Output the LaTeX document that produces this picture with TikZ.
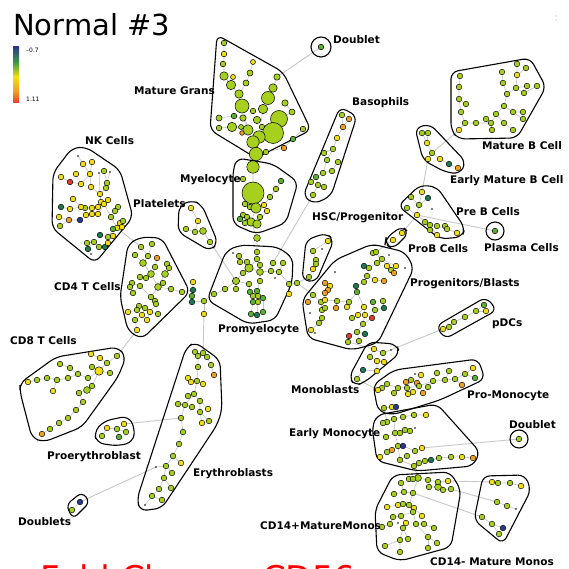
\documentclass[tikz,border=0pt]{standalone}
\usepackage{fontspec}
\setmainfont{DejaVu Sans}
\definecolor{cL}{HTML}{A6CF1E}
\definecolor{cY}{HTML}{F2DE12}
\definecolor{cO}{HTML}{F0A020}
\definecolor{cG}{HTML}{5AB030}
\definecolor{cT}{HTML}{1E7850}
\definecolor{cN}{HTML}{283A8C}
\definecolor{cR}{HTML}{E03C28}
\definecolor{edgegray}{HTML}{C4C4C4}
\definecolor{linkgray}{HTML}{C8C8C8}
\definecolor{barblue}{HTML}{2B3A8C}
\definecolor{bargreen}{HTML}{3A9A40}
\definecolor{baryellow}{HTML}{F2E010}
\definecolor{barorange}{HTML}{F5A020}
\definecolor{barred}{HTML}{EE3A2A}
\tikzset{
  grp/.style={draw=black, line width=1.1pt, rounded corners=7pt},
  lnk/.style={draw=linkgray, line width=0.9pt},
  edg/.style={draw=edgegray, line width=0.6pt},
  lbl/.style={font=\bfseries\fontsize{10.5}{12}\selectfont, anchor=west, inner sep=0pt},
}
\newcommand\dotlist[1]{\foreach \x/\y/\c in {#1}{\filldraw[fill=c\c,draw=black,line width=0.45pt] (\x,\y) circle (2.8);}}
\newcommand\bigdots[1]{\foreach \x/\y/\r/\c in {#1}{\filldraw[fill=c\c,draw=black,line width=0.5pt] (\x,\y) circle (\r);}}
\newcommand\tinydots[1]{\foreach \x/\y in {#1}{\fill (\x,\y) circle (0.9);}}
\begin{document}
\begin{tikzpicture}[x=1pt,y=-1pt]
\useasboundingbox (0,0) rectangle (568,569);
\fill[white] (0,0) rectangle (568,569);

% title and colour bar
\node[anchor=base west, inner sep=0pt, font=\fontsize{29}{33}\selectfont] (title) at (13,36) {Normal \#3};
\shade[top color=barblue, bottom color=bargreen] (13,47) rectangle (19,62);
\shade[top color=bargreen, bottom color=baryellow] (13,62) rectangle (19,77);
\shade[top color=baryellow, bottom color=barorange] (13,77) rectangle (19,91);
\shade[top color=barorange, bottom color=barred] (13,91) rectangle (19,103);
\node[anchor=west, inner sep=0pt, font=\fontsize{6}{7}\selectfont] (bmax) at (26,50) {–0.7};
\node[anchor=west, inner sep=0pt, font=\fontsize{6}{7}\selectfont] (bmin) at (26,99) {1.11};
\fill[gray] (556,16) circle (0.5); \fill[gray] (556,20) circle (0.5);

% links between groups
\draw[lnk] (321,47) -- (277,77);
\draw[lnk] (273,263) -- (313,195);
\draw[lnk] (210,242) -- (236,281);
\draw[lnk] (117,228) -- (141,247);
\draw[lnk] (137,330) -- (117,356);
\draw[lnk] (204,314) -- (203,353);
\draw[lnk] (181,418) -- (124,424);
\draw[lnk] (156,467) -- (80,502);
\draw[lnk] (289,284) -- (297,283) -- (309,277);
\draw[lnk] (297,283) -- (313,295);
\draw[lnk] (402,233) -- (417,215);
\draw[lnk] (417,215) -- (495,231);
\draw[lnk] (422,192) -- (428,159);
\draw[lnk] (432,153) -- (459,130);
\draw[lnk] (393,240) -- (376,252);
\draw[lnk] (383,353) -- (443,329);
\draw[lnk] (357,379) -- (378,390);
\draw[lnk] (384,408) -- (387,422);
\draw[lnk] (422,448) -- (519,439);
\draw[lnk] (414,466) -- (418,478);
\draw[lnk] (448,481) -- (492,482);
\draw[lnk] (451,489) -- (497,502);
\draw[lnk] (413,493) -- (482,517);

% internal tree edges
\draw[edg] (224,43)--(224,76)--(231,85)--(239,94)--(242,106)--(248,130)--(256,154);
\draw[edg] (253,62)--(250,73)--(246,83)--(239,94);
\draw[edg] (233,77)--(231,85);
\draw[edg] (277,77)--(273,88)--(268,98)--(263,109)--(259,137);
\draw[edg] (285,103)--(292,112)--(279,119)--(273,133)--(253,142)--(256,154)--(253,167)--(253,193);
\draw[edg] (303,129)--(293,139)--(284,148)--(266,152)--(256,154);
\draw[edg] (219,118)--(234,116)--(243,118)--(248,130);
\draw[edg] (219,128)--(232,127)--(248,130);
\draw[edg] (262,127)--(259,137);
\draw[edg] (253,193)--(256,208)--(251,222)--(257,238)--(257,252);
\draw[edg] (281,181)--(276,189)--(270,197)--(264,205)--(256,208);
\draw[edg] (243,179)--(253,193);
\draw[edg] (243,215)--(251,222);
\draw[edg] (267,211)--(257,224);
\draw[edg] (342,115)--(343,127)--(337,138)--(333,149)--(327,160)--(323,173)--(316,177)--(311,182);
\draw[edg] (349,119)--(343,127);
\draw[edg] (324,153)--(333,149);
\draw[edg] (338,162)--(332,171)--(323,173);
\draw[edg] (316,177)--(318,185)--(313,195);
\draw[edg] (318,185)--(324,187);
\draw[edg] (460,76)--(459,87)--(459,99)--(461,112)--(465,123)--(459,130);
\draw[edg] (466,104)--(459,99);
\draw[edg] (517,64)--(517,75)--(516,88)--(507,94)--(504,106)--(496,114)--(491,123)--(476,123)--(465,123);
\draw[edg] (526,68)--(517,75);
\draw[edg] (502,72)--(503,83)--(507,94);
\draw[edg] (527,86)--(516,88);
\draw[edg] (537,86)--(524,93)--(516,88);
\draw[edg] (513,112)--(504,106);
\draw[edg] (523,112)--(513,112)--(523,119);
\draw[edg] (504,123)--(496,114);
\draw[edg] (486,119)--(491,123)--(492,130);
\draw[edg] (513,130)--(504,123);
\draw[edg] (422,133)--(427,143)--(432,153)--(428,159);
\draw[edg] (428,133)--(427,143);
\draw[edg] (432,153)--(440,159)--(449,164)--(458,168);
\draw[edg] (422,192)--(419,205)--(417,215)--(425,222)--(437,226)--(447,229)--(457,233);
\draw[edg] (411,197)--(419,205)--(428,198);
\draw[edg] (407,208)--(417,215);
\draw[edg] (430,225)--(437,235);
\draw[edg] (430,230)--(425,222);
\draw[edg] (328,241)--(313,251)--(316,260)--(316,264)--(313,269)--(309,277);
\draw[edg] (373,253)--(382,259)--(387,266)--(391,270)--(394,273);
\draw[edg] (376,252)--(382,259)--(396,266);
\draw[edg] (377,263)--(369,268)--(367,276)--(364,282)--(356,286)--(357,292)--(349,302)--(337,301)--(325,300)--(321,302)--(313,295);
\draw[edg] (364,266)--(369,268);
\draw[edg] (330,286)--(325,293)--(325,300);
\draw[edg] (325,283)--(330,286);
\draw[edg] (328,290)--(325,293);
\draw[edg] (367,276)--(375,280)--(384,281);
\draw[edg] (357,292)--(364,307)--(365,315)--(363,324)--(357,332)--(349,336)--(348,342);
\draw[edg] (373,302)--(375,310)--(372,318)--(363,324);
\draw[edg] (383,301)--(384,308)--(375,310);
\draw[edg] (322,310)--(321,302);
\draw[edg] (336,308)--(337,301);
\draw[edg] (347,307)--(349,302);
\draw[edg] (357,332)--(365,334);
\draw[edg] (359,341)--(357,332);
\draw[edg] (352,318)--(358,315)--(364,307);
\draw[edg] (322,318)--(319,323)--(311,330);
\draw[edg] (308,302)--(313,295);
\draw[edg] (348,342)--(374,349)--(383,353);
\draw[edg] (374,349)--(370,357)--(377,361)--(377,371)--(363,370)--(357,379);
\draw[edg] (384,362)--(377,361);
\draw[edg] (443,329)--(449,327)--(454,322)--(465,317)--(476,311)--(484,305);
\draw[edg] (476,311)--(486,311);
\draw[edg] (378,390)--(382,388)--(387,384)--(398,388)--(407,388)--(419,386)--(433,381)--(445,380)--(455,379)--(465,374)--(473,368);
\draw[edg] (394,393)--(398,388);
\draw[edg] (411,380)--(407,388);
\draw[edg] (413,392)--(408,394)--(407,388);
\draw[edg] (423,393)--(419,386);
\draw[edg] (421,375)--(417,383)--(419,386);
\draw[edg] (428,387)--(433,381)--(437,373);
\draw[edg] (449,371)--(445,380);
\draw[edg] (462,385)--(455,379);
\draw[edg] (475,378)--(465,374);
\draw[edg] (384,408)--(392,407)--(396,407);
\draw[edg] (383,423)--(387,422)--(394,419)--(403,417)--(414,415)--(426,415);
\draw[edg] (394,419)--(395,433)--(398,446)--(400,460)--(414,466);
\draw[edg] (395,433)--(400,433)--(405,430)--(410,431);
\draw[edg] (386,437)--(395,433);
\draw[edg] (398,446)--(403,446)--(415,451)--(422,448);
\draw[edg] (380,457)--(387,452)--(392,450)--(398,446);
\draw[edg] (407,456)--(400,460);
\draw[edg] (414,466)--(419,463)--(425,461)--(431,460)--(439,458)--(451,457)--(462,457)--(473,458);
\draw[edg] (409,479)--(413,479)--(418,478)--(428,480)--(438,482)--(448,481);
\draw[edg] (429,487)--(438,487)--(443,490)--(451,489);
\draw[edg] (418,478)--(413,493)--(404,492)--(394,494);
\draw[edg] (401,483)--(404,492);
\draw[edg] (413,493)--(409,505)--(413,512)--(416,524)--(424,524)--(434,528);
\draw[edg] (387,507)--(398,505)--(403,504)--(409,505)--(414,508)--(422,516);
\draw[edg] (382,527)--(390,524)--(393,517)--(401,516)--(413,512);
\draw[edg] (401,516)--(406,523)--(403,528)--(400,540)--(400,552);
\draw[edg] (408,539)--(403,528);
\draw[edg] (416,524)--(428,537)--(437,543);
\draw[edg] (428,537)--(428,548);
\draw[edg] (385,546)--(400,540);
\draw[edg] (492,482)--(498,483)--(510,483)--(521,486);
\draw[edg] (497,502)--(507,506)--(516,509);
\draw[edg] (482,517)--(492,524)--(503,528);
\draw[edg] (492,524)--(499,534);
\draw[edg] (78,156)--(83,164)--(90,174);
\draw[edg] (92,162)--(90,174)--(81,184)--(70,182)--(61,177);
\draw[edg] (76,174)--(81,184);
\draw[edg] (90,174)--(91,187)--(100,194)--(101,202)--(104,204);
\draw[edg] (104,171)--(107,183)--(106,188)--(100,194);
\draw[edg] (99,173)--(100,194);
\draw[edg] (110,172)--(107,183);
\draw[edg] (73,199)--(81,207)--(85,208)--(92,208)--(98,207)--(104,204)--(108,200);
\draw[edg] (61,207)--(70,209)--(81,207);
\draw[edg] (104,204)--(111,217)--(115,211)--(118,207);
\draw[edg] (111,217)--(117,228)--(113,229)--(108,237)--(105,247);
\draw[edg] (120,223)--(117,228)--(122,227);
\draw[edg] (123,221)--(120,223);
\draw[edg] (86,215)--(92,214)--(98,214)--(104,204);
\draw[edg] (59,217)--(69,220)--(80,220)--(86,215);
\draw[edg] (60,226)--(69,220);
\draw[edg] (87,243)--(94,242)--(99,247)--(105,247);
\draw[edg] (88,249)--(94,242);
\draw[edg] (100,235)--(108,237)--(113,236);
\draw[edg] (108,243)--(108,237);
\draw[edg] (191,208)--(198,221)--(195,232)--(203,231)--(210,242);
\draw[edg] (186,229)--(195,232);
\draw[edg] (141,247)--(148,256)--(143,263)--(151,274)--(158,287)--(171,289)--(182,292)--(193,290);
\draw[edg] (152,244)--(148,256);
\draw[edg] (135,255)--(143,263);
\draw[edg] (157,258)--(155,267)--(151,274);
\draw[edg] (167,264)--(169,268)--(165,274)--(158,287);
\draw[edg] (140,277)--(146,278)--(151,274);
\draw[edg] (132,283)--(140,286)--(151,297)--(158,287);
\draw[edg] (163,283)--(158,287);
\draw[edg] (151,297)--(155,301)--(156,304)--(150,312)--(147,320);
\draw[edg] (139,306)--(145,308)--(150,312);
\draw[edg] (137,310)--(139,306);
\draw[edg] (142,315)--(145,308);
\draw[edg] (158,314)--(150,312);
\draw[edg] (130,287)--(133,293)--(140,286);
\draw[edg] (128,312)--(137,310);
\draw[edg] (137,330)--(135,320)--(142,315);
\draw[edg] (193,282)--(193,290)--(192,296)--(192,302)--(204,301)--(214,294);
\draw[edg] (204,301)--(204,314);
\draw[edg] (214,295)--(225,289)--(236,281)--(249,284)--(250,292)--(253,296)--(253,302)--(251,314);
\draw[edg] (236,289)--(236,281)--(243,273)--(249,268)--(247,262)--(239,256);
\draw[edg] (249,268)--(257,259)--(257,252);
\draw[edg] (240,262)--(247,262);
\draw[edg] (249,268)--(260,272)--(260,281)--(257,291)--(258,296)--(258,302)--(257,315);
\draw[edg] (260,265)--(260,272)--(271,271)--(279,272)--(289,284)--(289,294);
\draw[edg] (273,263)--(271,271);
\draw[edg] (283,263)--(279,272);
\draw[edg] (263,298)--(263,312);
\draw[edg] (195,352)--(198,356)--(203,353);
\draw[edg] (203,353)--(207,357)--(211,365)--(214,375);
\draw[edg] (198,356)--(198,367)--(197,381)--(194,394)--(185,405)--(181,418)--(183,432)--(179,444)--(173,456)--(166,466)--(164,478)--(159,489)--(152,496);
\draw[edg] (188,378)--(191,382)--(197,381)--(203,384);
\draw[edg] (188,396)--(194,394)--(200,401)--(208,409);
\draw[edg] (178,404)--(185,405)--(192,407);
\draw[edg] (200,401)--(200,412)--(209,421);
\draw[edg] (200,412)--(202,423);
\draw[edg] (181,463)--(173,456);
\draw[edg] (156,467)--(166,466)--(172,473);
\draw[edg] (171,488)--(164,478);
\draw[edg] (162,500)--(152,496)--(145,505);
\draw[edg] (117,356)--(107,363)--(99,371)--(92,386)--(87,390)--(79,393)--(83,402)--(76,410)--(68,418)--(59,423)--(50,429)--(42,434);
\draw[edg] (91,354)--(100,358)--(107,363);
\draw[edg] (92,367)--(99,371)--(110,373);
\draw[edg] (99,371)--(88,378)--(78,374)--(70,368)--(60,364);
\draw[edg] (78,374)--(68,378)--(57,380)--(47,378)--(37,380)--(28,382);
\draw[edg] (57,380)--(53,391);
\draw[edg] (107,428)--(117,429)--(124,424);
\draw[edg] (117,429)--(126,432);
\draw[edg] (102,436)--(107,428);
\draw[edg] (119,437)--(117,429);
\draw[edg] (80,502)--(72,510);

% group outlines
\draw[grp] (217,35) -- (283,72) -- (311,130) -- (256,158) -- (210,130) -- cycle;
\draw[grp] (237,158) -- (273,164) -- (298,182) -- (286,223) -- (256,234) -- (233,224) -- (233,170) -- cycle;
\draw[grp] (340,107) -- (357,116) -- (331,196) -- (314,204) -- (303,196) -- cycle;
\draw[grp] (451,72) -- (530,58) -- (546,87) -- (517,138) -- (458,139) -- (451,130) -- cycle;
\draw[grp] (415,128) -- (430,124) -- (466,162) -- (460,174) -- (445,172) -- (423,160) -- cycle;
\draw[grp] (420,185) -- (437,187) -- (465,228) -- (462,237) -- (440,239) -- (398,206) -- cycle;
\draw[grp] (386,238) -- (402,226) -- (409,233) -- (393,249) -- (385,244) -- cycle;
\draw[grp] (306,240) -- (326,233) -- (334,240) -- (316,282) -- (302,280) -- cycle;
\draw[grp] (335,260) -- (372,244) -- (405,252) -- (414,268) -- (378,343) -- (352,350) -- (308,338) -- (302,300) -- cycle;
\draw[grp] (436,326) -- (486,297) -- (497,310) -- (445,339) -- cycle;
\draw[grp] (368,342) -- (396,344) -- (400,353) -- (365,382) -- (355,386) -- (349,377) -- cycle;
\draw[grp] (373,385) -- (394,370) -- (478,359) -- (485,379) -- (440,400) -- (392,415) -- (378,411) -- cycle;
\draw[grp] (377,415) -- (437,404) -- (480,452) -- (473,466) -- (417,471) -- (377,461) -- (372,427) -- cycle;
\draw[grp] (393,475) -- (450,472) -- (461,490) -- (451,547) -- (400,561) -- (377,552) -- (375,510) -- cycle;
\draw[grp] (483,476) -- (525,475) -- (531,490) -- (503,544) -- (474,520) -- cycle;
\draw[grp] (53,173) -- (72,148) -- (86,147) -- (120,170) -- (133,217) -- (95,263) -- (52,228) -- cycle;
\draw[grp] (179,206) -- (192,200) -- (202,205) -- (218,243) -- (210,251) -- (178,232) -- cycle;
\draw[grp] (128,244) -- (141,237) -- (162,238) -- (190,292) -- (142,339) -- (128,331) -- (120,297) -- cycle;
\draw[grp] (207,300) -- (226,251) -- (240,245) -- (278,247) -- (293,258) -- (292,283) -- (275,320) -- (248,324) -- cycle;
\draw[grp] (20,383) -- (56,357) -- (118,347) -- (126,357) -- (118,377) -- (82,427) -- (44,442) -- (32,438) -- (20,392) -- cycle;
\draw[grp] (94,432) -- (104,421) -- (128,416) -- (135,428) -- (133,442) -- (118,446) -- (97,443) -- cycle;
\draw[grp] (186,348) -- (195,342) -- (220,360) -- (222,410) -- (217,425) -- (162,508) -- (140,511) -- (137,499) -- cycle;
\draw[grp, rounded corners=6pt] (66,505) -- (82,492) -- (90,502) -- (73,519) -- cycle;
\draw[black, line width=1.1pt] (321,47) circle (10);
\draw[black, line width=1.1pt] (495,231) circle (9);
\draw[black, line width=1.1pt] (519,439) circle (9);

% dots
\bigdots{224/43/2.8/L, 224/54/2.8/Y, 223/64/2.8/L, 224/76/4.2/L, 233/77/2.5/Y, 253/62/2.5/Y, 250/73/3/L, 231/85/4.7/L, 246/83/3/L, 239/94/4.2/L, 242/106/7/L, 277/77/3.2/L, 273/88/4.2/L, 268/98/6.5/L, 285/103/3.2/L, 263/109/4.7/L, 292/112/3/L, 253/111/2.8/L, 234/116/2.8/G, 243/118/3.2/L, 219/118/3/L, 257/120/3.7/L, 279/119/8.5/L, 232/127/4.7/L, 219/128/2.8/L, 248/130/5.2/L, 241/127/2.5/L, 262/127/2.8/L, 273/133/10.5/L, 259/137/6.2/L, 242/133/2.3/O, 303/129/2.8/L, 293/139/2.8/G, 253/142/6.2/L, 284/148/2.8/O, 266/152/2.8/L, 256/154/6.7/L, 253/167/6.2/L}
\bigdots{243/179/2.8/L, 281/181/2.8/G, 253/193/11/L, 276/189/2.8/L, 270/197/2.8/L, 264/205/2.8/Y, 245/204/2.8/L, 250/207/2.8/L, 256/208/5.2/L, 267/211/2.8/Y, 243/215/2.8/L, 247/217/2.8/L, 240/219/2.8/G, 251/222/4.2/L, 257/224/4.2/L, 245/223/2.8/L, 260/217/2.8/L, 257/238/3.4/L}
\bigdots{321/47/2.8/G, 495/231/2.8/G, 519/439/2.8/L, 143/263/3.4/L, 151/274/3.4/L, 158/287/3.4/L, 165/274/3.4/L, 203/231/3.4/L, 249/268/4.2/L, 260/272/3.4/L, 236/281/3.6/L, 99/371/4.2/Y, 87/390/3.4/L, 418/478/3.4/L, 438/487/3.4/L}
% basophils
\dotlist{342/115/L, 349/119/O, 343/127/O, 337/138/Y, 333/149/L, 324/153/L, 338/162/L, 327/160/L, 332/171/L, 323/173/L, 316/177/G, 311/182/L, 318/185/L, 324/187/L, 313/195/L}
% mature B
\dotlist{460/76/L, 517/64/L, 526/68/L, 517/75/Y, 502/72/L, 503/83/L, 516/88/L, 527/86/L, 537/86/L, 524/93/L, 507/94/L, 459/87/L, 459/99/L, 466/104/L, 461/112/L, 504/106/L, 496/114/L, 513/112/L, 523/112/L, 523/119/L, 486/119/L, 476/123/L, 465/123/L, 491/123/L, 504/123/L, 492/130/L, 513/130/L, 459/130/Y}
% early mature B and pre B
\dotlist{422/133/L, 428/133/L, 427/143/Y, 432/153/L, 428/159/Y, 440/159/Y, 449/164/T, 458/168/O}
\dotlist{422/192/Y, 411/197/L, 428/198/T, 419/205/L, 407/208/L, 417/215/Y, 425/222/L, 430/225/L, 437/226/L, 445/226/L, 430/230/L, 437/235/Y, 447/229/L, 457/233/Y}
% proB, HSC
\dotlist{402/233/Y, 393/240/Y, 328/241/Y, 313/251/L, 316/260/L, 316/264/L, 313/269/Y, 309/277/L}
% progenitors / blasts
\dotlist{373/253/L, 376/252/L, 382/259/L, 377/263/L, 387/266/Y, 396/266/Y, 364/266/T, 369/268/L, 391/270/L, 394/273/O, 367/276/L, 375/280/Y, 384/281/O, 364/282/L, 356/286/T, 357/292/G, 325/283/O, 330/286/Y, 328/290/O, 325/293/O, 313/295/L, 321/302/L, 325/300/Y, 337/301/L, 349/302/L, 308/302/O, 322/310/L, 325/308/L, 336/308/O, 347/307/Y, 383/301/L, 373/302/G, 384/308/T, 375/310/L, 364/307/Y, 365/315/Y, 358/315/Y, 372/318/R, 352/318/L, 322/318/L, 319/323/L, 363/324/L, 357/332/L, 365/334/T, 349/336/R, 348/342/L, 359/341/L, 311/330/Y}
% monoblasts, pDCs
\dotlist{374/349/Y, 383/353/L, 370/357/L, 377/361/Y, 384/362/Y, 363/370/T, 377/371/Y, 357/379/L}
\dotlist{443/329/Y, 449/327/L, 454/322/L, 465/317/L, 476/311/L, 486/311/Y, 484/305/G}
% pro-monocyte
\dotlist{473/368/Y, 475/378/G, 465/374/L, 462/385/O, 455/379/L, 449/371/L, 445/380/L, 437/373/L, 433/381/L, 428/387/L, 423/393/O, 421/375/Y, 411/380/L, 406/382/O, 417/383/O, 419/386/L, 413/392/Y, 408/394/Y, 407/388/L, 398/388/L, 394/393/L, 387/384/L, 382/388/L, 378/390/Y, 384/408/L, 392/407/Y, 396/407/N}
% early monocyte
\dotlist{387/422/L, 383/423/L, 394/419/L, 403/417/L, 414/415/L, 426/415/Y, 395/433/L, 400/433/L, 405/430/L, 410/431/L, 386/437/L, 398/446/L, 403/446/N, 392/450/O, 387/452/L, 415/451/L, 422/448/Y, 407/456/L, 380/457/Y, 400/460/L, 414/466/L, 419/463/L, 425/461/L, 431/460/T, 439/458/L, 451/457/L, 462/457/Y, 473/458/O}
% CD14+ and CD14-
\dotlist{409/479/L, 413/479/L, 428/480/L, 438/482/L, 448/481/Y, 429/487/L, 443/490/L, 451/489/L, 401/483/L, 394/494/L, 404/492/L, 413/493/L, 387/507/Y, 398/505/Y, 403/504/L, 409/505/L, 414/508/Y, 393/517/L, 401/516/L, 413/512/L, 422/516/Y, 390/524/L, 406/523/Y, 416/524/L, 424/524/L, 434/528/L, 382/527/L, 403/528/L, 385/546/L, 400/540/L, 408/539/L, 428/537/L, 437/543/L, 400/552/L, 428/548/L}
\dotlist{492/482/Y, 498/483/L, 510/483/L, 521/486/Y, 497/502/L, 507/506/L, 482/517/L, 492/524/L, 503/528/N, 499/534/L}
% NK cells
\dotlist{92/162/Y, 83/164/Y, 76/174/Y, 90/174/Y, 104/171/L, 61/177/Y, 70/182/R, 81/184/Y, 91/187/Y, 107/183/L, 106/188/L, 100/194/Y, 73/199/Y, 101/202/Y, 108/200/Y, 104/204/Y, 98/207/Y, 92/208/Y, 85/208/L, 81/207/Y, 70/209/Y, 61/207/T, 118/207/L, 115/211/L, 86/215/Y, 92/214/Y, 98/214/Y, 111/217/L, 59/217/Y, 69/220/O, 80/220/N, 60/226/L, 120/223/Y, 123/221/L, 122/227/Y, 117/228/Y, 113/229/G, 100/235/T, 108/237/L, 113/236/Y, 87/243/L, 94/242/L, 99/247/L, 105/247/T, 108/243/Y, 88/249/T}
% platelets
\dotlist{191/208/Y, 198/221/Y, 186/229/L, 195/232/L, 210/242/L}
% CD4 T cells
\dotlist{141/247/L, 152/244/L, 135/255/L, 148/256/L, 157/258/O, 155/267/L, 167/264/L, 169/268/L, 140/277/L, 146/278/L, 132/283/L, 140/286/L, 163/283/L, 171/289/L, 182/292/L, 193/282/Y, 193/290/T, 192/296/G, 204/301/L, 192/302/T, 204/314/Y, 130/287/L, 133/293/L, 151/297/L, 155/301/L, 139/306/L, 145/308/L, 137/310/L, 150/312/Y, 156/304/L, 142/315/Y, 147/320/Y, 158/314/L, 128/312/Y, 135/320/L, 137/330/Y, 214/294/L}
% promyelocyte
\dotlist{257/252/L, 239/256/L, 247/262/L, 257/259/L, 240/262/L, 260/265/L, 273/263/L, 283/263/L, 271/271/L, 279/272/L, 243/273/L, 249/284/L, 260/281/L, 225/289/L, 236/289/L, 250/292/G, 257/291/G, 253/296/L, 258/296/L, 263/298/G, 253/302/G, 258/302/L, 263/312/G, 257/315/T, 251/314/G, 289/284/L, 289/294/Y, 297/283/L}
% CD8 T cells
\dotlist{91/354/Y, 100/358/Y, 117/356/L, 107/363/L, 92/367/L, 110/373/L, 60/364/L, 70/368/L, 78/374/L, 88/378/L, 68/378/L, 57/380/L, 47/378/L, 37/380/L, 28/382/Y, 53/391/Y, 92/386/L, 79/393/L, 83/402/L, 76/410/L, 68/418/L, 59/423/L, 50/429/L, 42/434/O}
% proerythroblast, doublets
\dotlist{107/428/Y, 117/429/L, 124/424/Y, 126/432/L, 102/436/L, 119/437/G, 80/502/N, 72/510/L}
% erythroblasts
\dotlist{195/352/L, 203/353/L, 198/356/L, 207/357/L, 211/365/L, 198/367/L, 214/375/O, 188/378/Y, 191/382/Y, 197/381/L, 203/384/Y, 188/396/L, 194/394/L, 178/404/L, 185/405/L, 192/407/L, 200/401/L, 208/409/Y, 200/412/L, 209/421/L, 202/423/Y, 181/418/L, 183/432/L, 179/444/L, 173/456/L, 181/463/Y, 166/466/L, 172/473/L, 164/478/L, 159/489/L, 171/488/L, 152/496/L, 162/500/L}
\tinydots{78/156, 99/173, 110/172, 91/254, 432/209, 322/249, 389/255, 405/268, 335/272, 310/313, 315/333, 391/350, 415/374, 415/428, 398/523, 516/509, 233/253, 275/278, 156/467, 145/505}

% labels
\node[lbl] (lDoubletTop) at (333,40) {Doublet};
\node[lbl] (lMatureGrans) at (134,91) {Mature Grans};
\node[lbl] (lBasophils) at (352,103) {Basophils};
\node[lbl] (lMatureB) at (482,146) {Mature B Cell};
\node[lbl] (lNK) at (85,141) {NK Cells};
\node[lbl] (lMyelocyte) at (180,180) {Myelocyte};
\node[lbl] (lEarlyB) at (450,181) {Early Mature B Cell};
\node[lbl] (lPlatelets) at (133,204) {Platelets};
\node[lbl] (lPreB) at (456,212) {Pre B Cells};
\node[lbl] (lHSC) at (312,218) {HSC/Progenitor};
\node[lbl] (lPlasma) at (484,248) {Plasma Cells};
\node[lbl] (lProB) at (408,249) {ProB Cells};
\node[lbl] (lProg) at (410,284) {Progenitors/Blasts};
\node[lbl] (lCD4) at (54,287) {CD4 T Cells};
\node[lbl] (lpDC) at (492,324) {pDCs};
\node[lbl] (lPromyelocyte) at (218,330) {Promyelocyte};
\node[lbl] (lCD8) at (10,341) {CD8 T Cells};
\node[lbl] (lMonoblasts) at (291,390) {Monoblasts};
\node[lbl] (lProMono) at (467,396) {Pro-Monocyte};
\node[lbl] (lDoubletR) at (509,425) {Doublet};
\node[lbl] (lEarlyMono) at (289,434) {Early Monocyte};
\node[lbl] (lProEry) at (47,457) {Proerythroblast};
\node[lbl] (lEry) at (193,474) {Erythroblasts};
\node[lbl] (lDoublets) at (18,522) {Doublets};
\node[lbl] (lCD14p) at (260,526) {CD14+MatureMonos};
\node[lbl] (lCD14m) at (430,562) {CD14- Mature Monos};

% cut-off caption (as in the reference, only its top shows)
\begin{scope}
\clip (0,0) rectangle (568,569);
\node[anchor=base west, inner sep=0pt, text=red, font=\fontsize{34}{40}\selectfont] (caption) at (40,590) {Fold Change CD56};
\end{scope}
\end{tikzpicture}
\end{document}
